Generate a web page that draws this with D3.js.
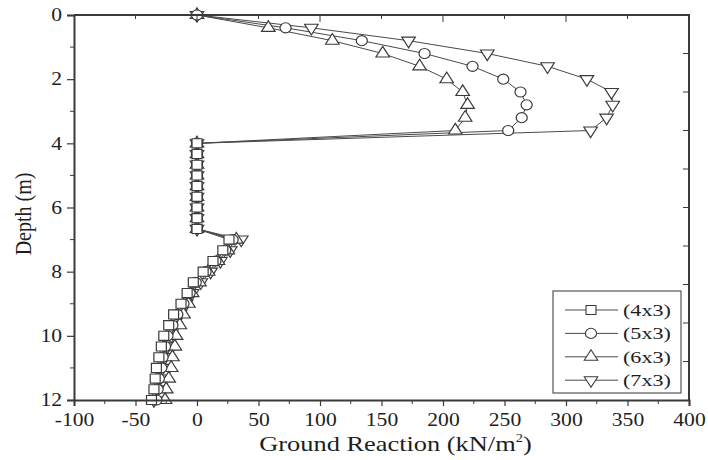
<!DOCTYPE html>
<html><head><meta charset="utf-8">
<script src="https://cdn.jsdelivr.net/npm/d3@7"></script>
<style>body{margin:0;background:#fff}svg{display:block}</style>
</head><body>
<script>
const depths = [0,0.4,0.8,1.2,1.6,2.0,2.4,2.8,3.2,3.6,4.0,
  4.333,4.667,5,5.333,5.667,6,6.333,6.667,
  7,7.333,7.667,8,8.333,8.667,9,9.333,9.667,10,10.333,10.667,11,11.333,11.667,12];
const seriesNames = ["(4x3)","(5x3)","(6x3)","(7x3)"];
const s4x3 = [null,null,null,null,null,null,null,null,null,null,0,
  0,0,0,0,0,0,0,0,
  26,21,13,5,-3,-8,-13,-19,-23,-27,-29,-31,-33,-34,-35,-37];
const s5x3 = [0,72,134,185,224,249,263,268,264,253,0,
  0,0,0,0,0,0,0,0,
  29,23,15,7,-1,-6,-11,-16,-20,-24,-26,-28,-29,-31,-32,-33];
const s6x3 = [0,58,110,151,181,203,216,220,218,210,0,
  0,0,0,0,0,0,0,0,
  32,25,17,9,2,-4,-7,-11,-14,-17,-18,-20,-21,-23,-25,-26];
const s7x3 = [0,93,172,236,285,317,337,338,333,320,0,
  0,0,0,0,0,0,0,0,
  36,27,19,11,3,-4,-9,-14,-18,-21,-24,-26,-28,-30,-32,-35];
const xTicks = [-100,-50,0,50,100,150,200,250,300,350,400];
const yTicks = [0,2,4,6,8,10,12];
const markerTypes = ["square","circle","triangle","triangleDown"];

const W=708,H=460;
const m={l:74,r:689,t:15,b:400};
const SX=1.2; // horizontal stretch of glyphs in the reference
const MX=1.1;
const svg=d3.select("body").append("svg").attr("width",W).attr("height",H);
const x=d3.scaleLinear().domain([-100,400]).range([m.l,m.r]);
const y=d3.scaleLinear().domain([0,12]).range([m.t,m.b]);
const axisColor="#3a3a3a";
const font="'Liberation Serif','Times New Roman',serif";
const ink="#1e1e1e";

const allSeries=[s4x3,s5x3,s6x3,s7x3];
const line=d3.line().defined(d=>d[0]!=null).x(d=>x(d[0])).y(d=>y(d[1]));
function markerPath(type){
  if(type==="square") return d3.symbol(d3.symbolSquare,82)();
  if(type==="circle") return d3.symbol(d3.symbolCircle,80)();
  return d3.symbol(d3.symbolTriangle,66)();
}
function markerTf(type,px,py){
  return `translate(${px},${py}) scale(${MX},1)`+(type==="triangleDown"?" rotate(180)":"");
}
const g=svg.append("g");
[3,2,1,0].forEach(i=>{
  const pts=allSeries[i].map((v,j)=>[v,depths[j]]);
  g.append("path").attr("d",line(pts)).attr("fill","none").attr("stroke","#4a4a4a").attr("stroke-width",1);
});
[3,2,1,0].forEach(i=>{
  const pts=allSeries[i].map((v,j)=>[v,depths[j]]).filter(d=>d[0]!=null);
  g.selectAll(null).data(pts).enter().append("path")
    .attr("d",markerPath(markerTypes[i]))
    .attr("transform",d=>markerTf(markerTypes[i],x(d[0]),y(d[1])))
    .attr("fill","#fff").attr("stroke","#3a3a3a").attr("stroke-width",1.1);
});

// axes
const bottom=svg.append("g").attr("transform",`translate(0,${m.b})`);
bottom.call(d3.axisBottom(x).tickValues(xTicks).tickSize(6).tickPadding(7).tickFormat(d=>String(d)));
bottom.selectAll(".minor").data(d3.range(-75,400,50)).enter().append("line").attr("class","minor")
  .attr("x1",d=>x(d)).attr("x2",d=>x(d)).attr("y1",0).attr("y2",4).attr("stroke",axisColor);
const left=svg.append("g").attr("transform",`translate(${m.l},0)`);
left.call(d3.axisLeft(y).tickValues(yTicks).tickSize(7).tickFormat(d=>String(d)));
left.selectAll(".minor").data([1,3,5,7,9,11]).enter().append("line").attr("class","minor")
  .attr("x1",0).attr("x2",-4).attr("y1",d=>y(d)).attr("y2",d=>y(d)).attr("stroke",axisColor);
[bottom,left].forEach(a=>{
  a.select(".domain").attr("stroke",axisColor).attr("stroke-width",2);
  a.selectAll(".tick line").attr("stroke",axisColor).attr("stroke-width",1.2);
  a.selectAll(".tick text").style("font-family",font).attr("font-size",18).attr("fill",ink);
});
bottom.selectAll(".tick text").attr("transform",`scale(${SX},1)`);
left.selectAll(".tick text").attr("x",-12/SX).attr("transform",`scale(${SX},1)`);
// top and right frame
svg.append("line").attr("x1",m.l).attr("x2",m.r+1).attr("y1",m.t).attr("y2",m.t).attr("stroke",axisColor).attr("stroke-width",2);
svg.append("line").attr("x1",m.r).attr("x2",m.r).attr("y1",m.t).attr("y2",m.b).attr("stroke",axisColor).attr("stroke-width",2);
svg.selectAll(".topt").data(d3.range(-50,400,50)).enter().append("line")
  .attr("x1",d=>x(d)).attr("x2",d=>x(d)).attr("y1",m.t).attr("y2",d=>m.t+(d%100===0?7:4)).attr("stroke",axisColor);
svg.selectAll(".rt").data(d3.range(1.2,11.9,1.2)).enter().append("line")
  .attr("y1",d=>y(d)).attr("y2",d=>y(d)).attr("x1",m.r).attr("x2",m.r-6).attr("stroke",axisColor);

// titles
const xt=svg.append("text").attr("transform",`translate(${(m.l+m.r)/2+14},451) scale(${SX},1)`).attr("text-anchor","middle")
  .style("font-family",font).attr("font-size",22).attr("fill",ink);
xt.append("tspan").text("Ground Reaction (kN/m");
xt.append("tspan").text("2").attr("font-size",12).attr("dy","-9");
xt.append("tspan").text(")").attr("dy","9");
svg.append("text").attr("transform",`translate(31,214) scale(${SX},1) rotate(-90)`).attr("text-anchor","middle")
  .style("font-family",font).attr("font-size",20).attr("fill",ink).text("Depth (m)");

// legend
const lg=svg.append("g");
lg.append("rect").attr("x",553).attr("y",291).attr("width",128).attr("height",102).attr("fill","#fff").attr("stroke","#555").attr("stroke-width",1.2);
seriesNames.forEach((n,i)=>{
  const yy=310+i*23.4;
  lg.append("line").attr("x1",565).attr("x2",618).attr("y1",yy).attr("y2",yy).attr("stroke","#4a4a4a");
  lg.append("path").attr("d",markerPath(markerTypes[i]))
    .attr("transform",markerTf(markerTypes[i],591,yy))
    .attr("fill","#fff").attr("stroke","#3a3a3a");
  lg.append("text").attr("transform",`translate(623,${yy}) scale(1.3,1)`).attr("dy","0.35em").style("font-family",font).attr("font-size",17).attr("fill",ink).text(n);
});
</script>
</body></html>
